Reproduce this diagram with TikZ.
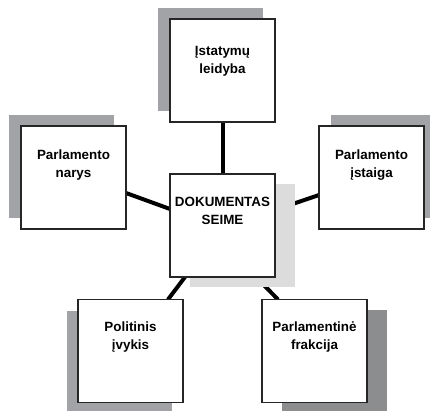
\documentclass[tikz,border=0pt]{standalone}
\usepackage{fontspec}
\setmainfont{Liberation Sans}
\usetikzlibrary{calc}
\definecolor{shadowA}{HTML}{A2A3A6}
\definecolor{shadowB}{HTML}{8C8D8F}
\definecolor{shadowC}{HTML}{DCDCDC}
\definecolor{edgecol}{HTML}{262626}
\pgfdeclarelayer{bg}
\pgfsetlayers{bg,main}
\begin{document}
\begin{tikzpicture}[x=1pt,y=-1pt,
  box/.style={draw=edgecol, line width=1.1pt, fill=white, minimum width=105pt, minimum height=103pt, inner sep=0pt, outer sep=0pt},
  lbl/.style={anchor=north, inner sep=0pt, align=center, font=\bfseries\fontsize{13.4}{18}\selectfont},
  conn/.style={line width=4pt, draw=black},
  shadowbox/.style={fill=#1}]
\useasboundingbox (0,0) rectangle (430,410);
% boxes
\node[box] (t)  at (222.5,70.5)  {};
\node[box] (l)  at (73.5,177.5)  {};
\node[box] (r)  at (371.5,177.5) {};
\node[box] (c)  at (222.5,225.5) {};
\node[box] (bl) at (130.5,351)   {};
\node[box] (br) at (314.5,351)   {};
% labels
\node[lbl] (tT)  at (222.5,46)  {Įstatymų\\leidyba};
\node[lbl] (lT)  at (73.5,150)  {Parlamento\\narys};
\node[lbl] (rT)  at (371.5,150) {Parlamento\\įstaiga};
\node[lbl] (cT)  at (222.5,197) {DOKUMENTAS\\SEIME};
\node[lbl] (blT) at (130.5,322) {Politinis\\įvykis};
\node[lbl] (brT) at (314.5,322) {Parlamentinė\\frakcija};
\begin{pgfonlayer}{bg}
  % connectors
  \draw[conn] (t.south) -- (c.north);
  \draw[conn] ($(l.east)+(0,15.5)$) -- ($(c.west)+(0,-16.5)$);
  \draw[conn] ($(c.east)+(0,-15.5)$) -- ($(r.west)+(0,17.5)$);
  \draw[conn] ($(c.south)+(-37.5,0)$) -- ($(bl.north)+(37.5,0)$);
  \draw[conn] ($(c.south)+(33.5,0)$) -- ($(br.north)+(-36.5,0)$);
  % shadows
  \fill[shadowbox=shadowA] ($(t.north west)+(-12,-11)$) rectangle ($(t.south east)+(-12,-11)$);
  \fill[shadowbox=shadowA] ($(l.north west)+(-12,-11)$) rectangle ($(l.south east)+(-12,-11)$);
  \fill[shadowbox=shadowA] ($(r.north west)+(12,-11)$) rectangle ($(r.south east)+(12,-11)$);
  \fill[shadowbox=shadowC] ($(c.north west)+(20,10)$) rectangle ($(c.south east)+(20,10)$);
  \fill[shadowbox=shadowA] ($(bl.north west)+(-11,11)$) rectangle ($(bl.south east)+(-11,11)$);
  \fill[shadowbox=shadowB] ($(br.north west)+(20,10)$) rectangle ($(br.south east)+(20,10)$);
\end{pgfonlayer}
\end{tikzpicture}
\end{document}
